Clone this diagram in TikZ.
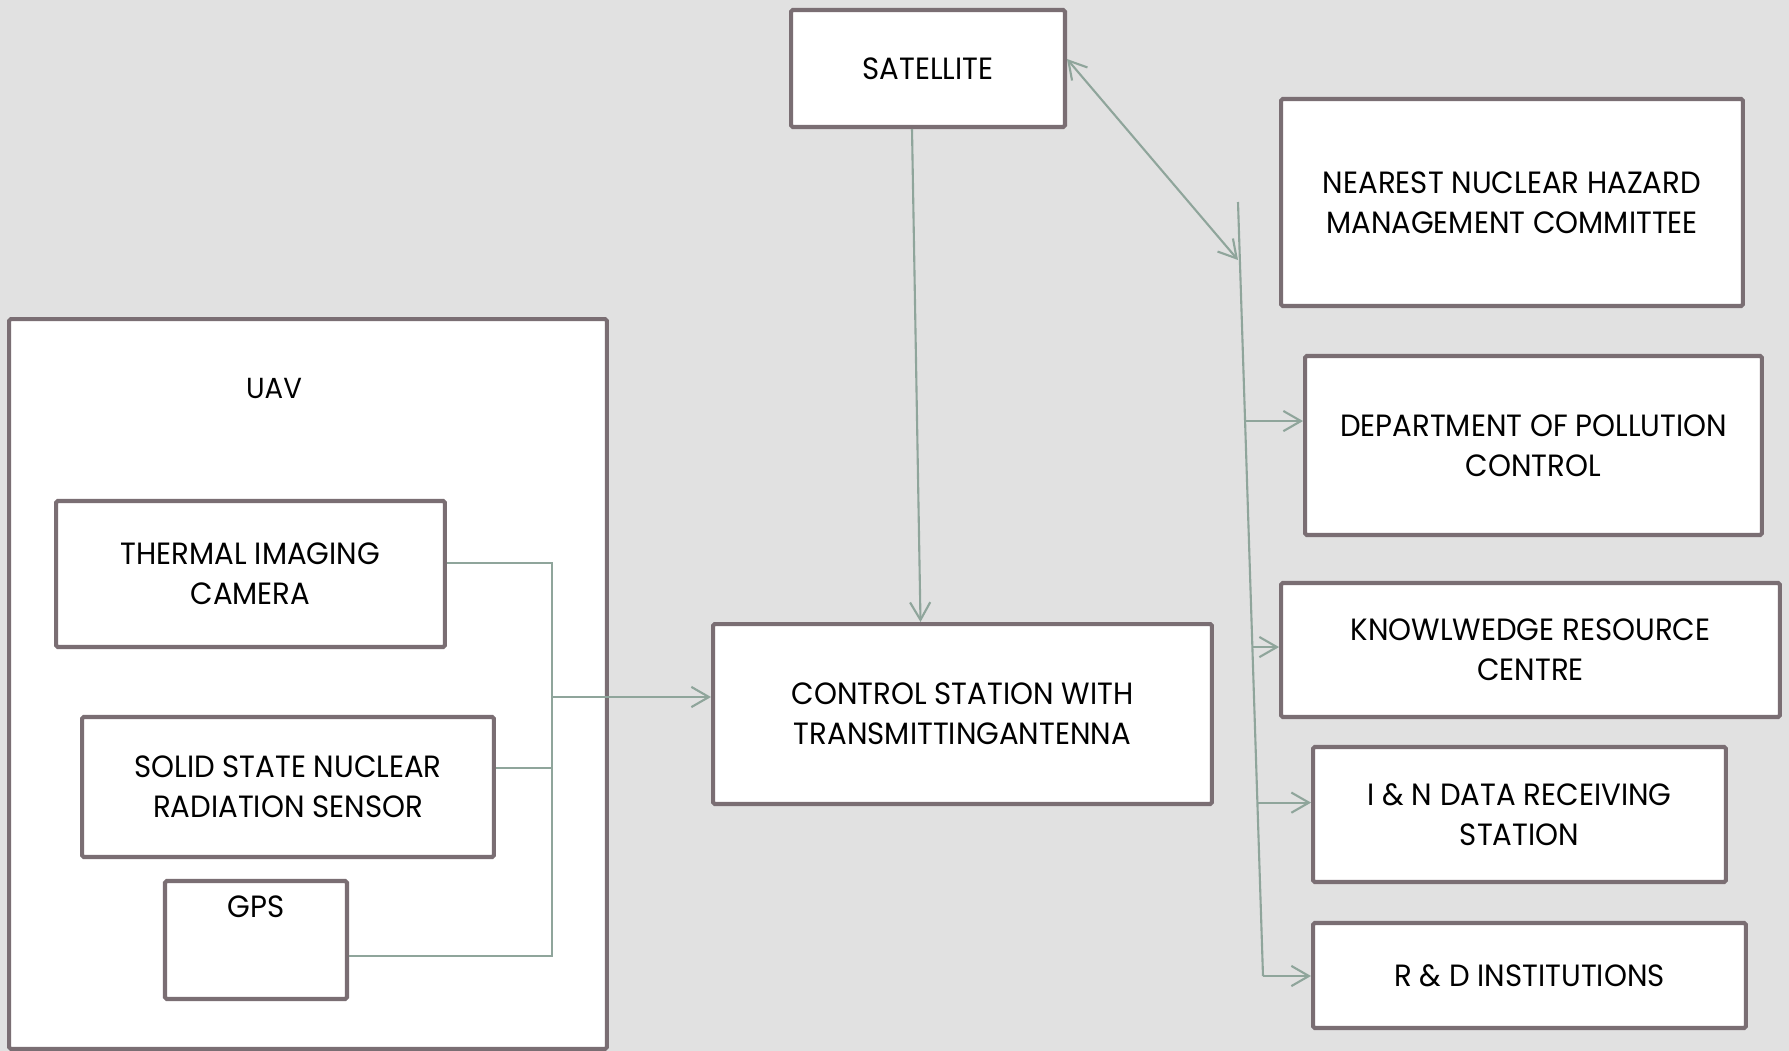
\documentclass[tikz,border=0pt]{standalone}
\usepackage{fontspec}
\setmainfont{Poppins}[FakeStretch=0.95]
\usetikzlibrary{arrows.meta, positioning, calc}
\definecolor{bggrey}{RGB}{225,225,225}
\definecolor{boxedge}{RGB}{122,110,115}
\definecolor{linkgreen}{RGB}{143,165,155}
\tikzset{
  block/.style={draw=boxedge, line width=2.3pt, fill=white, rounded corners=1pt,
                align=center, font=\fontsize{17.5}{22.8}\selectfont, inner sep=0pt},
  tag/.style={align=center, font=\fontsize{16.5}{20}\selectfont, inner sep=0pt},
  link/.style={draw=linkgreen, line width=1.2pt},
  flow/.style={link, -{Straight Barb[length=10pt,width=11.5pt]}},
  twoway/.style={link, {Straight Barb[length=10pt,width=11.5pt]}-{Straight Barb[length=10pt,width=11.5pt]}},
}
\begin{document}
\begin{tikzpicture}[x=0.02cm, y=-0.02cm]
\fill[bggrey] (0,0) rectangle (1789,1051);
\useasboundingbox (0,0) rectangle (1789,1051);

\node[block, minimum width=11.96cm, minimum height=14.6cm] (uav) at (308,684) {};
\node[tag] (uavtag) at (274,388) {UAV};
\node[block, minimum width=7.78cm, minimum height=2.92cm] (cam) at (250.5,574) {THERMAL IMAGING\\CAMERA};
\node[block, minimum width=8.24cm, minimum height=2.8cm] (sensor) at (288,787) {SOLID STATE NUCLEAR\\RADIATION SENSOR};
\node[block, minimum width=3.64cm, minimum height=2.36cm] (gps) at (256,940) {};
\node[tag, font=\fontsize{17.5}{22.8}\selectfont] (gpstag) at (256,907) {GPS};

\node[block, minimum width=5.48cm, minimum height=2.34cm] (sat) at (928,68.5) {SATELLITE};
\node[block, minimum width=9.98cm, minimum height=3.6cm] (ctrl) at (962.5,714) {CONTROL STATION WITH\\TRANSMITTINGANTENNA};

\node[block, minimum width=9.24cm, minimum height=4.14cm] (haz) at (1512,202.5) {NEAREST NUCLEAR HAZARD\\MANAGEMENT COMMITTEE};
\node[block, minimum width=9.14cm, minimum height=3.58cm] (poll) at (1533.5,445.5) {DEPARTMENT OF POLLUTION\\CONTROL};
\node[block, minimum width=9.98cm, minimum height=2.68cm] (know) at (1530.5,650) {KNOWLWEDGE RESOURCE\\CENTRE};
\node[block, minimum width=8.26cm, minimum height=2.7cm] (indata) at (1519.5,814.5) {I \& N DATA RECEIVING\\STATION};
\node[block, minimum width=8.66cm, minimum height=2.1cm] (rnd) at (1529.5,975.5) {R \& D INSTITUTIONS};

\coordinate (jtop) at (552,563);
\coordinate (jmid) at (552,768);
\coordinate (jin) at (552,697);
\coordinate (jbot) at (552,956);
\draw[link] (cam.east |- jtop) -- (jtop) -- (jbot) -- (gps.east |- jbot);
\draw[link] (sensor.east |- jmid) -- (jmid);
\draw[flow] (jin) -- (ctrl.west |- jin);

\draw[flow] ([xshift=-0.32cm]sat.south) -- ([xshift=-0.84cm]ctrl.north);

\coordinate (bustop) at (1238,202);
\coordinate (busbot) at (1263,976);
\coordinate (sathit) at (1238,260);
\draw[twoway] ([yshift=0.19cm]sat.east) -- (sathit);
\draw[link] (bustop) -- (busbot);
\coordinate (polltap) at ($(bustop)!0.283!(busbot)$);
\coordinate (knowtap) at ($(bustop)!0.575!(busbot)$);
\coordinate (indtap) at ($(bustop)!0.776!(busbot)$);
\draw[flow] (polltap) -- (poll.west |- polltap);
\draw[flow] (knowtap) -- (know.west |- knowtap);
\draw[flow] (indtap) -- (indata.west |- indtap);
\draw[flow] (busbot) -- (rnd.west |- busbot);
\end{tikzpicture}
\end{document}
